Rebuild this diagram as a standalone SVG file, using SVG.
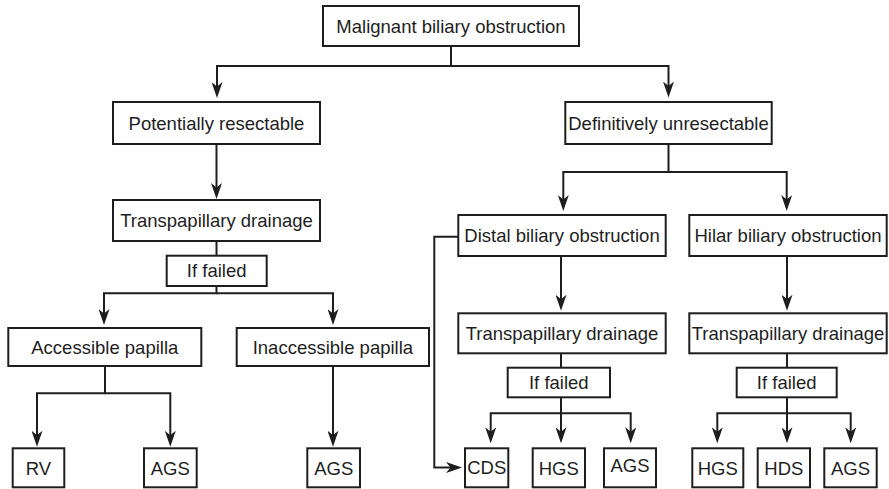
<svg xmlns="http://www.w3.org/2000/svg" width="889" height="489" viewBox="0 0 889 489">
<style>
.box{fill:#fff;stroke:#1e1e1e;stroke-width:2}
.lbl{font-family:"Liberation Sans",Arial,Helvetica,sans-serif;font-size:18.5px;fill:#1e1e1e;text-anchor:middle}
.con{fill:none;stroke:#1e1e1e;stroke-width:2}
.arr{marker-end:url(#ah)}
</style>
<defs>
<marker id="ah" viewBox="0 0 16 11" markerWidth="16" markerHeight="11" markerUnits="userSpaceOnUse" refX="7" refY="5.5" orient="auto">
<path d="M0,0 L16,5.5 L0,11 L4.5,5.5 z" fill="#1e1e1e"/>
</marker>
</defs>
<rect width="889" height="489" fill="#fff"/>
<g id="connectors">
<path class="con" d="M451,46 V66"/>
<path class="con arr" d="M451,66 H217 V89"/>
<path class="con arr" d="M451,66 H668.5 V88.5"/>
<path class="con arr" d="M216.5,144 V190"/>
<path class="con" d="M216.5,241 V256"/>
<path class="con arr" d="M216.5,286 V293.3 H104 V316"/>
<path class="con arr" d="M216.5,293.3 H333 V316"/>
<path class="con arr" d="M105,366 V393.3 H37 V437.7"/>
<path class="con arr" d="M105,393.3 H170.3 V437.7"/>
<path class="con arr" d="M333,366 V437.7"/>
<path class="con arr" d="M668.5,144 V172 H563.3 V202"/>
<path class="con arr" d="M668.5,172 H786.7 V202"/>
<path class="con arr" d="M561,256 V301.7"/>
<path class="con arr" d="M787,256 V301.7"/>
<path class="con" d="M561,353.3 V367.7"/>
<path class="con" d="M787,353.3 V367.7"/>
<path class="con arr" d="M561,397.3 V413.3 H490.7 V434.3"/>
<path class="con arr" d="M561,413.3 V434.3"/>
<path class="con arr" d="M561,413.3 H630.7 V434.3"/>
<path class="con arr" d="M787,397.3 V413.3 H717.3 V434.3"/>
<path class="con arr" d="M787,413.3 V434.3"/>
<path class="con arr" d="M787,413.3 H850.7 V434.3"/>
<path class="con arr" d="M458.3,236.7 H434.3 V467.5 H453"/>
</g>
<g id="n-malignant"><rect class="box" x="323" y="6" width="256" height="40"/><text class="lbl" x="451" y="32.5">Malignant biliary obstruction</text></g>
<g id="n-potentially"><rect class="box" x="113" y="102" width="207" height="42"/><text class="lbl" x="216.5" y="129.5">Potentially resectable</text></g>
<g id="n-definitively"><rect class="box" x="565.3" y="102" width="206.4" height="42"/><text class="lbl" x="668.5" y="129.5">Definitively unresectable</text></g>
<g id="n-transp-left"><rect class="box" x="113" y="200" width="207" height="41"/><text class="lbl" x="216.5" y="227">Transpapillary drainage</text></g>
<g id="n-iffailed-left"><rect class="box" x="166.7" y="255.7" width="100" height="30.3"/><text class="lbl" x="216.7" y="277.3">If failed</text></g>
<g id="n-accessible"><rect class="box" x="8.3" y="328" width="193" height="38"/><text class="lbl" x="104.8" y="353.5">Accessible papilla</text></g>
<g id="n-inaccessible"><rect class="box" x="236.7" y="328" width="192.3" height="38"/><text class="lbl" x="332.9" y="353.5">Inaccessible papilla</text></g>
<g id="n-rv"><rect class="box" x="12.7" y="448.3" width="51.6" height="39"/><text class="lbl" x="38.5" y="474.5">RV</text></g>
<g id="n-ags-acc"><rect class="box" x="144" y="448.3" width="52.7" height="39"/><text class="lbl" x="170.3" y="474.5">AGS</text></g>
<g id="n-ags-inacc"><rect class="box" x="307.3" y="448.3" width="52.7" height="39"/><text class="lbl" x="333.7" y="474.5">AGS</text></g>
<g id="n-distal"><rect class="box" x="458.3" y="215" width="207.4" height="41"/><text class="lbl" x="562" y="242">Distal biliary obstruction</text></g>
<g id="n-hilar"><rect class="box" x="689.3" y="215" width="197.4" height="41"/><text class="lbl" x="788" y="242">Hilar biliary obstruction</text></g>
<g id="n-transp-distal"><rect class="box" x="458.3" y="313.3" width="207.4" height="40"/><text class="lbl" x="562" y="339.8">Transpapillary drainage</text></g>
<g id="n-transp-hilar"><rect class="box" x="689.3" y="313.3" width="197.4" height="40"/><text class="lbl" x="788" y="339.8">Transpapillary drainage</text></g>
<g id="n-iffailed-distal"><rect class="box" x="507.7" y="367.7" width="102.3" height="29.6"/><text class="lbl" x="558.8" y="389">If failed</text></g>
<g id="n-iffailed-hilar"><rect class="box" x="736.7" y="367.7" width="100" height="29.6"/><text class="lbl" x="786.7" y="389">If failed</text></g>
<g id="n-cds"><rect class="box" x="465" y="448.3" width="43.3" height="39"/><text class="lbl" x="486.7" y="474">CDS</text></g>
<g id="n-hgs-distal"><rect class="box" x="532.7" y="448.3" width="52.3" height="39"/><text class="lbl" x="558.8" y="475">HGS</text></g>
<g id="n-ags-distal"><rect class="box" x="604" y="448.3" width="52" height="39"/><text class="lbl" x="630" y="472">AGS</text></g>
<g id="n-hgs-hilar"><rect class="box" x="692.3" y="448.3" width="51" height="39"/><text class="lbl" x="717.8" y="474.5">HGS</text></g>
<g id="n-hds"><rect class="box" x="757.7" y="448.3" width="52.3" height="39"/><text class="lbl" x="783.8" y="474.5">HDS</text></g>
<g id="n-ags-hilar"><rect class="box" x="824.3" y="448.3" width="52.4" height="39"/><text class="lbl" x="850.5" y="474.5">AGS</text></g>
</svg>
